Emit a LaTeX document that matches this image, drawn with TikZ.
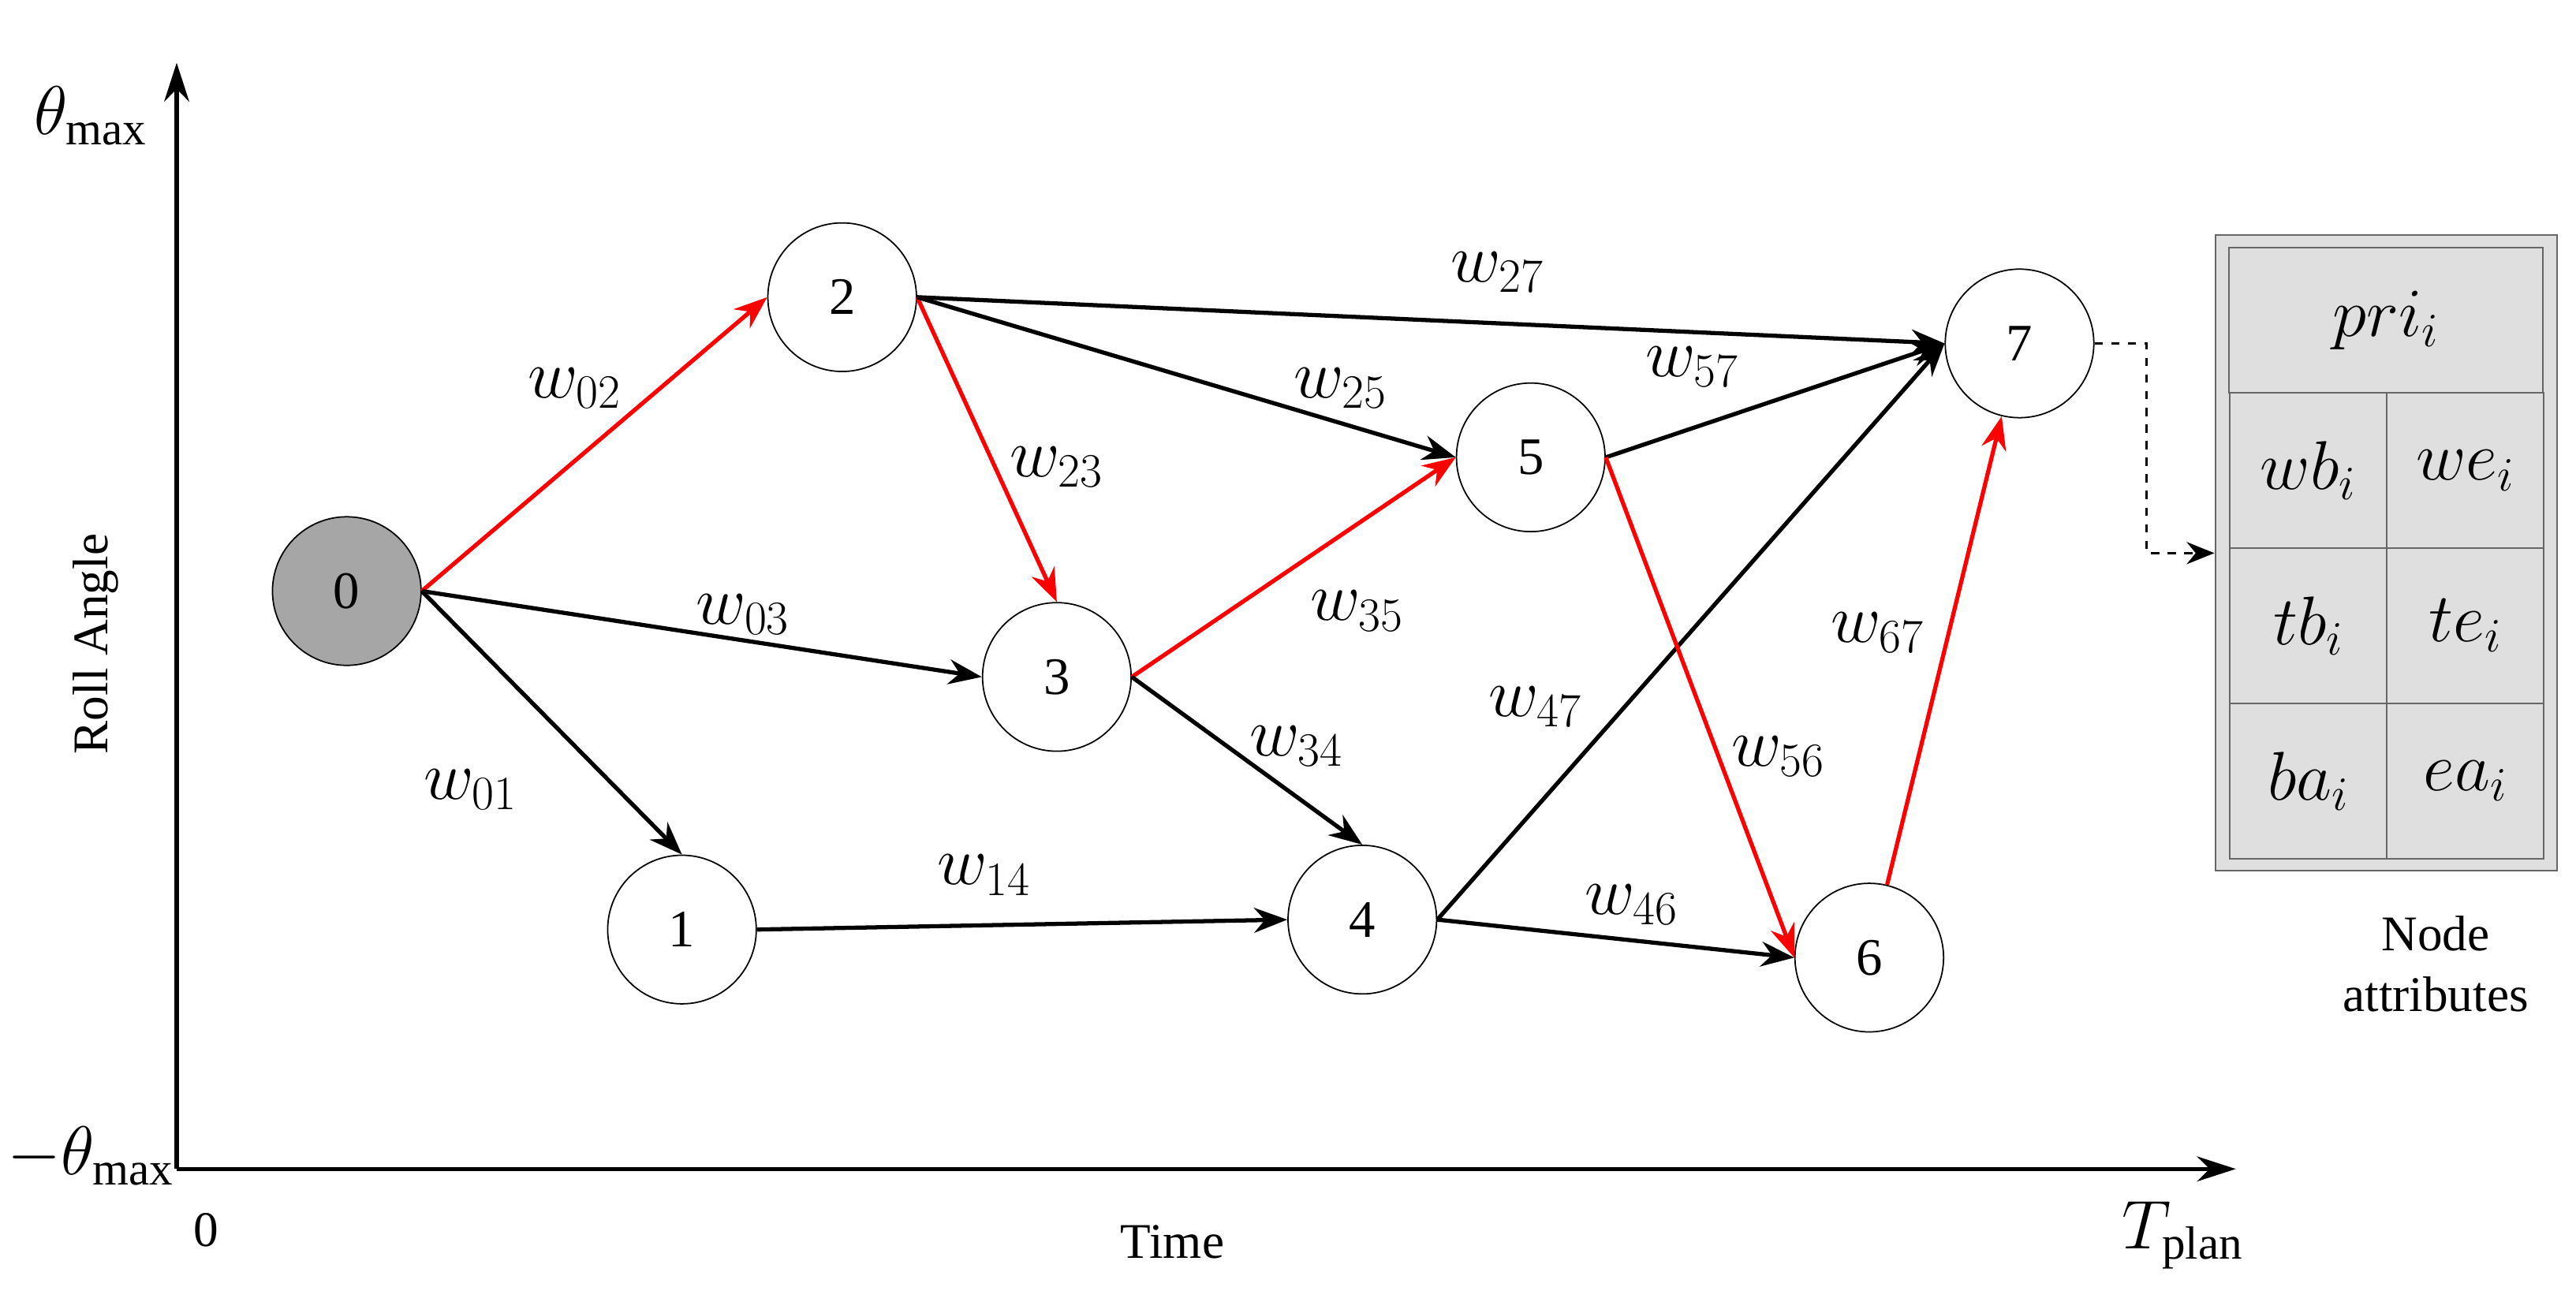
\documentclass[tikz,border=0pt]{standalone}
\usepackage{fontspec}
\setmainfont{Liberation Serif}
\usetikzlibrary{arrows.meta}
\begin{document}
\begin{tikzpicture}[x=0.02094cm,y=-0.02094cm,
  nd/.style={circle,draw,line width=0.5pt,minimum size=90*0.02094cm,inner sep=0pt,font=\fontsize{19}{22}\selectfont},
  ed/.style={line width=1.5pt,-{Stealth[length=12pt,width=9pt]}},
  rd/.style={ed,red},
  wl/.style={font=\fontsize{24}{28}\selectfont},
  lab/.style={font=\fontsize{18}{22}\selectfont},
  cell/.style={draw=gray!80!black,fill=gray!25,line width=0.6pt}]
\useasboundingbox (0,0) rectangle (1560,788.5);
% axes
\coordinate (O) at (107,708);
\coordinate (Y) at (107,38);
\coordinate (X) at (1354,708);
\draw[line width=1.5pt,-{Stealth[length=14pt,width=9pt]}] (O) -- (Y);
\draw[line width=1.5pt,-{Stealth[length=14pt,width=9pt]}] (O) -- (X);
\node[wl] (tmax) at (55,70) {$\theta_{\mathrm{max}}$};
\node[wl] (tmin) at (55,700) {$-\theta_{\mathrm{max}}$};
\node[lab] (zero) at (125,745) {0};
\node[lab] (time) at (710,752) {Time};
\node[wl] (tp) at (1322,748) {$T_{\mathrm{plan}}$};
\node[lab,rotate=90] (roll) at (58,390) {Roll Angle};
% nodes
\node[nd,fill=gray!70] (n0) at (210,358) {0};
\node[nd] (n1) at (413,563) {1};
\node[nd] (n2) at (510,180) {2};
\node[nd] (n3) at (640,410) {3};
\node[nd] (n4) at (825,557) {4};
\node[nd] (n5) at (927,277) {5};
\node[nd] (n6) at (1132,580) {6};
\node[nd] (n7) at (1223,208) {7};
% edges
\draw[rd] (n0.east) -- (n2.west);
\draw[ed] (n0.east) -- (n3.west);
\draw[ed] (n0.east) -- (n1.north);
\draw[rd] (n2.east) -- (n3.north);
\draw[ed] (n2.east) -- (n5.west);
\draw[ed] (n2.east) -- (n7.west);
\draw[rd] (n3.east) -- (n5.west);
\draw[ed] (n3.east) -- (n4.north);
\draw[ed] (n1.east) -- (n4.west);
\draw[ed] (n4.east) -- (n7.west);
\draw[ed] (n4.east) -- (n6.west);
\draw[ed] (n5.east) -- (n7.west);
\draw[rd] (n5.east) -- (n6.west);
\draw[rd] (n6) -- (n7);
% labels
\node[wl] at (348,235) {$w_{02}$};
\node[wl] at (640,283) {$w_{23}$};
\node[wl] at (907,165) {$w_{27}$};
\node[wl] at (812,235) {$w_{25}$};
\node[wl] at (1025,222) {$w_{57}$};
\node[wl] at (450,372) {$w_{03}$};
\node[wl] at (822,370) {$w_{35}$};
\node[wl] at (785,452) {$w_{34}$};
\node[wl] at (930,428) {$w_{47}$};
\node[wl] at (1077,458) {$w_{56}$};
\node[wl] at (1137,383) {$w_{67}$};
\node[wl] at (285,478) {$w_{01}$};
\node[wl] at (596,530) {$w_{14}$};
\node[wl] at (988,548) {$w_{46}$};
% table
\node[cell,minimum width=207*0.02094cm,minimum height=385*0.02094cm] (tab) at (1445,335) {};
\node[cell,minimum width=190*0.02094cm,minimum height=88*0.02094cm,wl] (c0) at (1445,194) {$pri_i$};
\node[cell,minimum width=95*0.02094cm,minimum height=94*0.02094cm,wl] (c1) at (1398,285) {$wb_i$};
\node[cell,minimum width=95*0.02094cm,minimum height=94*0.02094cm,wl] (c2) at (1493,285) {$we_i$};
\node[cell,minimum width=95*0.02094cm,minimum height=94*0.02094cm,wl] (c3) at (1398,379) {$tb_i$};
\node[cell,minimum width=95*0.02094cm,minimum height=94*0.02094cm,wl] (c4) at (1493,379) {$te_i$};
\node[cell,minimum width=95*0.02094cm,minimum height=94*0.02094cm,wl] (c5) at (1398,473) {$ba_i$};
\node[cell,minimum width=95*0.02094cm,minimum height=94*0.02094cm,wl] (c6) at (1493,473) {$ea_i$};
\node[lab,align=center] (cap) at (1475,584) {Node\\attributes};
\coordinate (bend1) at (1300,208);
\coordinate (bend2) at (1300,335);
\draw[line width=1pt,dashed,-{Stealth[length=10pt,width=8pt]}] (n7.east) -- (bend1) -- (bend2) -- (tab.west);
\end{tikzpicture}
\end{document}
